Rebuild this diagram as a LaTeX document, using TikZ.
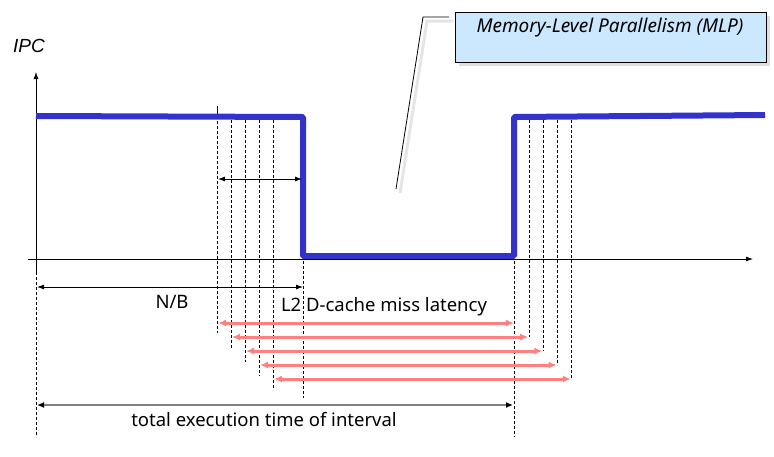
\documentclass[tikz,border=0pt]{standalone}
\usepackage{fontspec}
\setmainfont{Noto Sans}
\newfontfamily\ipcfont{Liberation Sans}
\usetikzlibrary{arrows.meta,shadows,calc}
\definecolor{ipcblue}{RGB}{51,51,204}
\definecolor{missred}{RGB}{255,128,128}
\definecolor{calloutfill}{RGB}{204,232,255}
\tikzset{
  axis/.style={line width=0.8pt,-{Latex[length=7pt,width=5pt]}},
  guide/.style={dashed,dash pattern=on 3pt off 2pt,line width=0.6pt},
  ipc/.style={ipcblue,line width=6pt,line join=bevel},
  dimarrow/.style={line width=0.8pt,{Latex[length=7pt,width=5pt]}-{Latex[length=7pt,width=5pt]}},
  missarrow/.style={missred,line width=3pt,{Latex[length=8pt,width=7pt]}-{Latex[length=8pt,width=7pt]}},
  lbl/.style={font=\fontsize{18.5}{22}\selectfont,inner sep=0pt},
}
\begin{document}
\begin{tikzpicture}[x=1pt,y=-1pt]
\useasboundingbox (0,0) rectangle (774,456);
% coordinates
\coordinate (o) at (36,259);
\coordinate (ytop) at (36,72);
\coordinate (ybot) at (36,272);
\coordinate (xl) at (28,259);
\coordinate (xr) at (753,259);
% axes
\draw[axis] (ybot) -- (ytop);
\draw[axis] (xl) -- (xr);
\node[font=\ipcfont\itshape\fontsize{19}{22}\selectfont,inner sep=0pt] (ipclbl) at (29,46) {IPC};
% dashed guides
\draw[guide] (ybot) -- (36,437);
\draw[guide] (217,106) -- (217,333);
\draw[guide] (231,120) -- (231,348);
\draw[guide] (245,120) -- (245,362);
\draw[guide] (259,120) -- (259,376);
\draw[guide] (273,120) -- (273,390);
\draw[guide] (303,261) -- (303,398);
\draw[guide] (514,261) -- (514,437);
\draw[guide] (529,120) -- (529,337);
\draw[guide] (543,120) -- (543,351);
\draw[guide] (557,120) -- (557,365);
\draw[guide] (571,120) -- (571,379);
\draw[line width=0.8pt] (217,106) -- (217,114);
% IPC curve
\draw[ipc] (36,116) -- (303,117) -- (303,256) -- (514,256) -- (514,117) -- (765,115);
% arrows
\coordinate (wl) at (218,179);
\coordinate (wr) at (302,179);
\draw[dimarrow] (wl) -- (wr);
\coordinate (nbl) at (37,287);
\coordinate (nbr) at (303,287);
\draw[dimarrow] (nbl) -- (nbr);
\node[lbl] (nb) at (172,302) {N/B};
\node[lbl] (l2) at (384,307) {L2 D-cache miss latency};
\foreach \i/\y in {0/323,1/337,2/351,3/365,4/379}{
  \coordinate (ml\i) at ({218+14*\i},\y);
  \coordinate (mr\i) at ({514+14.2*\i},\y);
  \draw[missarrow] (ml\i) -- (mr\i);
}
\coordinate (tl) at (37,405);
\coordinate (tr) at (513,405);
\draw[line width=1.6pt,gray,{Latex[length=7pt,width=6pt,black]}-{Latex[length=7pt,width=6pt,black]}] (tl) -- (tr);
\node[lbl] (total) at (264,420) {total execution time of interval};
% callout
\coordinate (c1) at (449,17);
\coordinate (c2) at (423,17);
\coordinate (c3) at (396,189);
\draw[gray!20,line width=3pt] ($(c1)+(4,4)$) -- ($(c2)+(4,4)$) -- ($(c3)+(4,4)$);
\draw[line width=0.8pt] (c1) -- (c2) -- (c3);
\node[draw=black,line width=0.8pt,fill=calloutfill,minimum width=311pt,minimum height=50pt,anchor=north west,
  drop shadow={shadow xshift=4pt,shadow yshift=-4pt,fill=gray!50}] (box) at (455,12) {};
\node[font=\itshape\fontsize{19}{22}\selectfont,inner sep=0pt] (mlp) at (610,28) {Memory-Level Parallelism (MLP)};
\end{tikzpicture}
\end{document}
